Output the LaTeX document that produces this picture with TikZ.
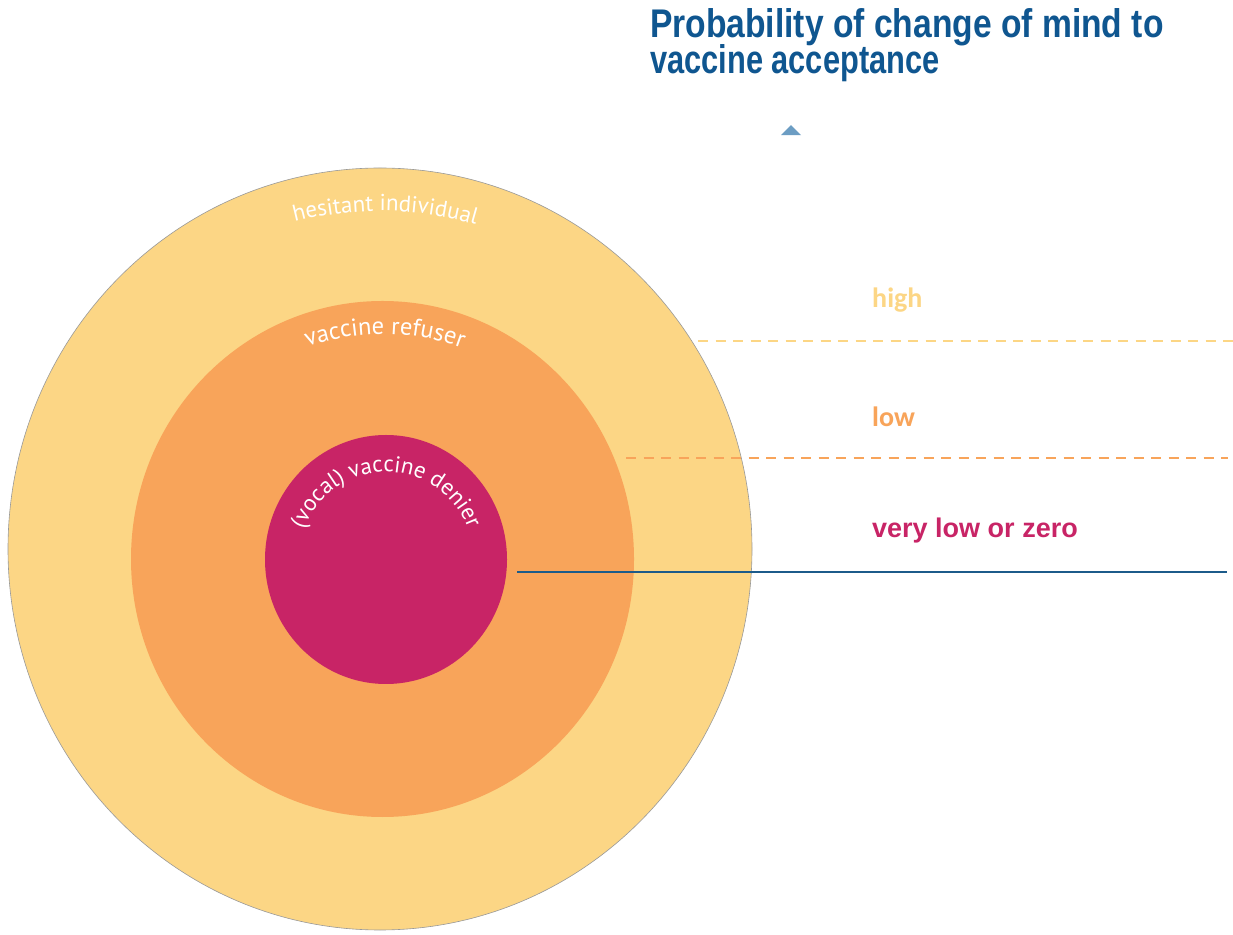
\documentclass[tikz,border=0pt]{standalone}
\usepackage{fontspec}
\setmainfont{Liberation Sans}
\newfontfamily\arcfam{PT Sans}
\newfontfamily\lblfam{Carlito}
\usetikzlibrary{decorations.text,shapes.geometric}
\definecolor{cyellow}{HTML}{FCD685}
\definecolor{corange}{HTML}{F8A45A}
\definecolor{cmagenta}{HTML}{C82466}
\definecolor{ctitle}{HTML}{0F5690}
\definecolor{ctri}{HTML}{6C9DC3}
\definecolor{cline}{HTML}{1C5B8A}
\newcommand\arcfont{\arcfam\fontsize{23}{26}\selectfont}
\newcommand\arcfontb{\arcfam\fontsize{24.5}{27}\selectfont}
\tikzset{
  ring/.style={ellipse, inner sep=0pt, outer sep=0pt},
  arclabel/.style={decorate, decoration={text along path, text align=center, text color=white}},
  titletext/.style={anchor=base west, inner sep=0pt, text=ctitle, font=\bfseries\fontsize{40}{44}\selectfont},
  levellabel/.style={anchor=base west, inner sep=0pt, font=\bfseries\fontsize{27}{30}\selectfont},
  sep/.style={line width=2pt, dash pattern=on 10pt off 7.5pt},
}
\begin{document}
\begin{tikzpicture}[x=1pt,y=1pt]
\useasboundingbox (0,0) rectangle (1233,934);
\fill[white] (0,0) rectangle (1233,934);

% rings
\node[ring, fill=cyellow, draw=gray!80, line width=0.6pt, minimum width=744pt, minimum height=762pt] (outer) at (380,385) {};
\node[ring, fill=corange, minimum width=503pt, minimum height=516pt] (middle) at (382.5,375) {};
\node[ring, fill=cmagenta, minimum width=242pt, minimum height=249pt] (inner) at (386,374.5) {};

% curved labels
\path[arclabel, decoration={text={|\arcfont|hesitant individual}}]
  (380,385) ++(134.1:338) arc[start angle=134.1, end angle=44.1, radius=338];
\path[arclabel, decoration={text={|\arcfontb|vaccine refuser}}]
  (382.5,375) ++(134.4:225) arc[start angle=134.4, end angle=44.4, radius=225];
\path[arclabel, decoration={text={|\arcfont|(vocal) vaccine denier}}]
  (386,374.5) ++(182:87.5) arc[start angle=182, end angle=-2, radius=87.5];

% separators
\coordinate (hiS) at (698,593);
\coordinate (hiE) at (1233,593);
\coordinate (loS) at (626,476);
\coordinate (loE) at (1228,476);
\coordinate (axS) at (517,362);
\coordinate (axE) at (1227,362);
\draw[sep, draw=cyellow] (hiS) -- (hiE);
\draw[sep, draw=corange] (loS) -- (loE);
\draw[cline, line width=2pt] (axS) -- (axE);

% level labels
\node[levellabel, text=cyellow, font=\lblfam\bfseries\fontsize{28}{30}\selectfont] (high) at (872,626) {high};
\node[levellabel, text=corange, font=\lblfam\bfseries\fontsize{28}{30}\selectfont] (low) at (872,507) {low};
\node[levellabel, text=cmagenta] (vlow) at (872,396) {very low or zero};

% title
\node[titletext] (title1) at (650,896) {\scalebox{0.84}[1]{Probability of change of mind to}};
\node[titletext] (title2) at (650,860) {\scalebox{0.77}[1]{vaccine acceptance}};

% triangle
\node[isosceles triangle, isosceles triangle apex angle=90, shape border rotate=90, fill=ctri, inner sep=0pt, minimum width=20pt, minimum height=10pt] (tri) at (791,803) {};
\end{tikzpicture}
\end{document}
